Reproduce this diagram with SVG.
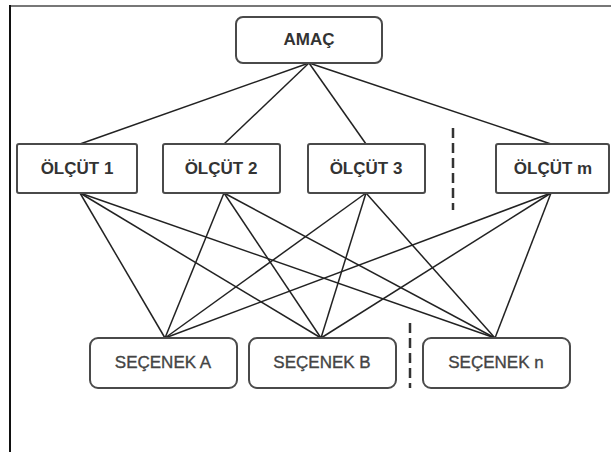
<svg xmlns="http://www.w3.org/2000/svg" width="611" height="452" viewBox="0 0 611 452">
  <style>
    .box { fill: #ffffff; stroke: #4a4a4a; stroke-width: 2; }
    .lbl { font-family: "Liberation Sans", Arial, sans-serif; font-size: 17px; font-weight: bold; fill: #333333; text-anchor: middle; }
    .opt { font-family: "Liberation Sans", Arial, sans-serif; font-size: 17px; font-weight: normal; fill: #444444; stroke: #444444; stroke-width: 0.35; text-anchor: middle; }
    .edge { stroke: #222222; stroke-width: 1.5; fill: none; }
    .sep { stroke: #333333; stroke-width: 2.5; stroke-dasharray: 10 5; fill: none; }
  </style>
  <rect x="0" y="0" width="611" height="452" fill="#ffffff"/>

  <!-- frame -->
  <line x1="10" y1="6" x2="611" y2="6" stroke="#777777" stroke-width="2"/>
  <line x1="10" y1="5" x2="10" y2="452" stroke="#111111" stroke-width="2"/>

  <!-- connectors -->
  <g id="connectors">
    <line class="edge" x1="309" y1="63" x2="80" y2="144"/>
    <line class="edge" x1="309" y1="63" x2="224" y2="144"/>
    <line class="edge" x1="309" y1="63" x2="366" y2="144"/>
    <line class="edge" x1="309" y1="63" x2="551" y2="144"/>

    <line class="edge" x1="80" y1="193" x2="165" y2="338"/>
    <line class="edge" x1="80" y1="193" x2="321" y2="338"/>
    <line class="edge" x1="80" y1="193" x2="495" y2="338"/>
    <line class="edge" x1="224" y1="193" x2="165" y2="338"/>
    <line class="edge" x1="224" y1="193" x2="321" y2="338"/>
    <line class="edge" x1="224" y1="193" x2="495" y2="338"/>
    <line class="edge" x1="366" y1="193" x2="165" y2="338"/>
    <line class="edge" x1="366" y1="193" x2="321" y2="338"/>
    <line class="edge" x1="366" y1="193" x2="495" y2="338"/>
    <line class="edge" x1="551" y1="193" x2="165" y2="338"/>
    <line class="edge" x1="551" y1="193" x2="321" y2="338"/>
    <line class="edge" x1="551" y1="193" x2="495" y2="338"/>

    <line class="sep" x1="453" y1="128" x2="453" y2="210"/>
    <line class="sep" x1="410" y1="323" x2="410" y2="388"/>
  </g>

  <g id="amac">
    <rect class="box" x="236" y="17" width="146" height="46" rx="7"/>
    <text class="lbl" x="309" y="45">AMAÇ</text>
  </g>

  <g id="olcut1">
    <rect class="box" x="17" y="144" width="120" height="49" rx="2"/>
    <text class="lbl" x="77" y="174">ÖLÇÜT 1</text>
  </g>
  <g id="olcut2">
    <rect class="box" x="163" y="144" width="117" height="49" rx="2"/>
    <text class="lbl" x="221" y="174">ÖLÇÜT 2</text>
  </g>
  <g id="olcut3">
    <rect class="box" x="308" y="144" width="117" height="49" rx="2"/>
    <text class="lbl" x="366" y="174">ÖLÇÜT 3</text>
  </g>
  <g id="olcutm">
    <rect class="box" x="496" y="144" width="113" height="49" rx="2"/>
    <text class="lbl" x="553" y="174">ÖLÇÜT m</text>
  </g>

  <g id="secenekA">
    <rect class="box" x="90" y="338" width="147" height="50" rx="8"/>
    <text class="opt" x="163" y="368">SEÇENEK A</text>
  </g>
  <g id="secenekB">
    <rect class="box" x="249" y="338" width="147" height="50" rx="8"/>
    <text class="opt" x="322" y="368">SEÇENEK B</text>
  </g>
  <g id="secenekN">
    <rect class="box" x="423" y="338" width="147" height="50" rx="8"/>
    <text class="opt" x="496" y="368">SEÇENEK n</text>
  </g>
</svg>
